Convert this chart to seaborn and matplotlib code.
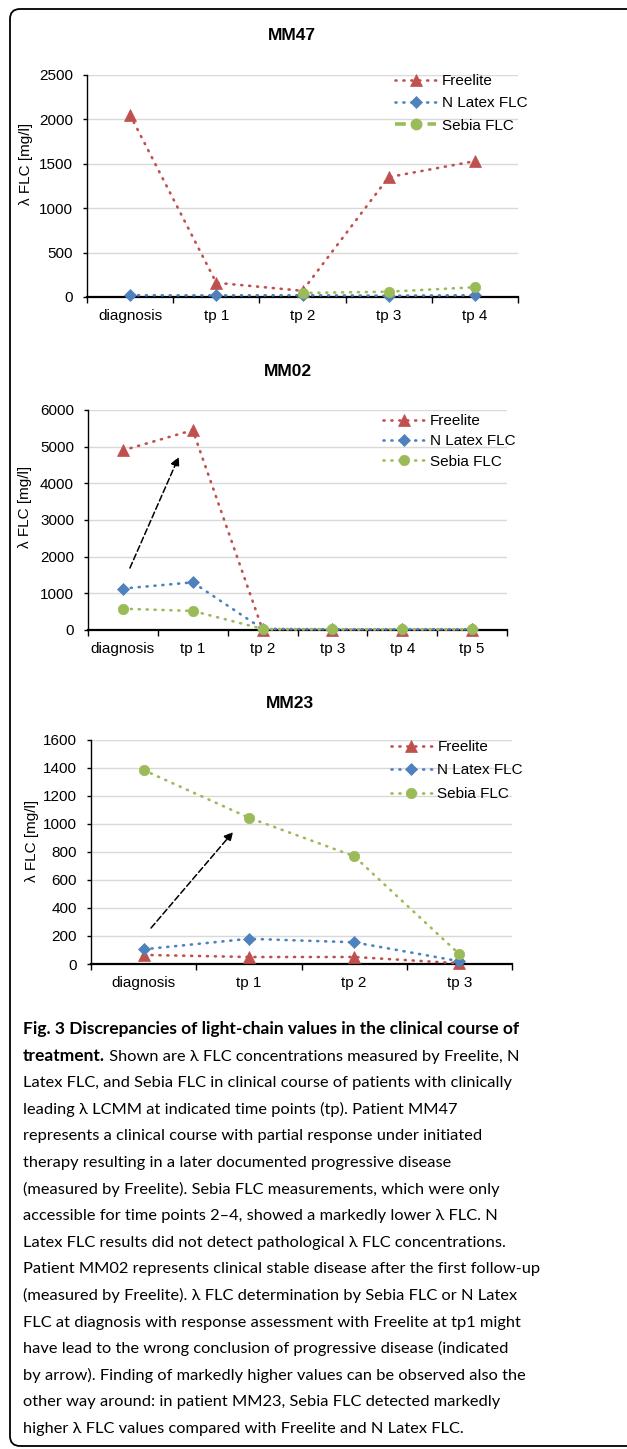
import matplotlib
matplotlib.use('Agg')
import matplotlib.pyplot as plt
import seaborn as sns
import numpy as np
import pandas as pd
from matplotlib.lines import Line2D
from matplotlib.patches import FancyBboxPatch

sns.set_theme(style='white', rc={'text.color': 'black', 'axes.labelcolor': 'black',
                                 'xtick.color': 'black', 'ytick.color': 'black'})
plt.rcParams['font.family'] = ['Liberation Sans', 'DejaVu Sans']

# ---- data ----
methods = ['Freelite', 'N Latex FLC', 'Sebia FLC']

mm47_tp = ['diagnosis', 'tp 1', 'tp 2', 'tp 3', 'tp 4']
mm47_freelite = [2050, 160, 70, 1350, 1530]
mm47_nlatex = [20, 18, 20, 15, 20]
mm47_sebia = [np.nan, np.nan, 45, 60, 110]

mm02_tp = ['diagnosis', 'tp 1', 'tp 2', 'tp 3', 'tp 4', 'tp 5']
mm02_freelite = [4900, 5450, 10, 10, 10, 10]
mm02_nlatex = [1130, 1300, 30, 20, 20, 20]
mm02_sebia = [580, 520, 30, 20, 20, 20]

mm23_tp = ['diagnosis', 'tp 1', 'tp 2', 'tp 3']
mm23_freelite = [65, 50, 50, 5]
mm23_nlatex = [105, 180, 155, 20]
mm23_sebia = [1385, 1045, 770, 70]

# arrows (start, end) in data coords
mm02_arrow = ((0.1, 1690), (0.8, 4720))
mm23_arrow = ((0.07, 257), (0.85, 943))

caption_bold = 'Fig. 3 Discrepancies of light-chain values in the clinical course of'
caption_lines = [
    "Latex FLC, and Sebia FLC in clinical course of patients with clinically",
    "leading \u03bb LCMM at indicated time points (tp). Patient MM47",
    "represents a clinical course with partial response under initiated",
    "therapy resulting in a later documented progressive disease",
    "(measured by Freelite). Sebia FLC measurements, which were only",
    "accessible for time points 2\u20134, showed a markedly lower \u03bb FLC. N",
    "Latex FLC results did not detect pathological \u03bb FLC concentrations.",
    "Patient MM02 represents clinical stable disease after the first follow-up",
    "(measured by Freelite). \u03bb FLC determination by Sebia FLC or N Latex",
    "FLC at diagnosis with response assessment with Freelite at tp1 might",
    "have lead to the wrong conclusion of progressive disease (indicated",
    "by arrow). Finding of markedly higher values can be observed also the",
    "other way around: in patient MM23, Sebia FLC detected markedly",
    "higher \u03bb FLC values compared with Freelite and N Latex FLC.",
]

colors = {'Freelite': '#C0504D', 'N Latex FLC': '#4F81BD', 'Sebia FLC': '#9BBB59'}
markers = {'Freelite': '^', 'N Latex FLC': 'D', 'Sebia FLC': 'o'}
msizes = {'Freelite': 8, 'N Latex FLC': 6.5, 'Sebia FLC': 7.5}
fs = 11

W, H = 627, 1449
fig = plt.figure(figsize=(W / 100, H / 100), dpi=100)
renderer = fig.canvas.get_renderer()


def px_axes(left, right, top, bottom):
    return fig.add_axes([left / W, 1 - bottom / H, (right - left) / W, (bottom - top) / H])


def draw_panel(ax, tps, vals, ymax, ystep, title, title_xy, leg_xy, leg_space, lab_xy,
               arrow=None, sebia_dashed=False):
    x = np.arange(len(tps))
    for m, v in zip(methods, vals):
        df = pd.DataFrame({'x': x, 'y': v}).dropna()
        sns.lineplot(data=df, x='x', y='y', ax=ax, color=colors[m], marker=markers[m],
                     markersize=msizes[m], markeredgecolor=colors[m], markeredgewidth=0.5,
                     linestyle=(0, (0.4, 2.6)), lw=1.9, dash_capstyle='round',
                     errorbar=None, label=m, clip_on=False, zorder=3)
    ax.set_xlim(-0.5, len(tps) - 0.5)
    ax.set_xticks(x)
    ax.set_xticklabels(tps)
    ax.set_xticks(np.arange(len(tps) + 1) - 0.5, minor=True)
    ax.tick_params(axis='x', which='major', length=0, pad=8.5, labelsize=fs)
    ax.tick_params(axis='x', which='minor', bottom=True, length=4, width=1, direction='out')
    ax.set_ylim(0, ymax)
    ax.set_yticks(np.arange(0, ymax + 1, ystep))
    ax.tick_params(axis='y', left=True, length=3, width=1, direction='out', pad=7, labelsize=fs)
    ax.yaxis.grid(True, color='#D9D9D9', lw=1)
    ax.set_axisbelow(True)
    for s in ['top', 'right']:
        ax.spines[s].set_visible(False)
    ax.spines['left'].set_color('black')
    ax.spines['left'].set_linewidth(1)
    ax.spines['bottom'].set_color('black')
    ax.spines['bottom'].set_linewidth(1.6)
    ax.set_xlabel('')
    ax.set_ylabel('\u03bb FLC [mg/l]', fontsize=fs, va='center')
    ax.yaxis.set_label_coords(*lab_xy)

    handles, labels = ax.get_legend_handles_labels()
    if sebia_dashed:
        h = handles[2]
        handles[2] = Line2D([], [], color=h.get_color(), marker=h.get_marker(),
                            markersize=h.get_markersize(), lw=2.6, linestyle=(0, (3, 1.5)))
    ax.legend(handles, labels, loc='upper left', bbox_to_anchor=leg_xy, frameon=False,
              fontsize=fs, handlelength=2.7, handletextpad=0.35, labelspacing=leg_space,
              borderpad=0, borderaxespad=0)

    if arrow is not None:
        ax.annotate('', xy=arrow[1], xytext=arrow[0],
                    arrowprops=dict(arrowstyle='-|>', color='black', lw=1.1,
                                    linestyle=(0, (4, 2)), mutation_scale=13,
                                    shrinkA=0, shrinkB=0))
    fig.text(title_xy[0] / W, 1 - title_xy[1] / H, title, ha='center', va='center',
             fontsize=12.5, fontweight='bold')


ax1 = px_axes(87, 518, 75, 297)
draw_panel(ax1, mm47_tp, [mm47_freelite, mm47_nlatex, mm47_sebia], 2500, 500, 'MM47',
           (292, 35), (0.715, 1.005), 0.55, (-0.142, 0.60), sebia_dashed=True)

ax2 = px_axes(88, 507, 410, 630)
draw_panel(ax2, mm02_tp, [mm02_freelite, mm02_nlatex, mm02_sebia], 6000, 1000, 'MM02',
           (288, 372), (0.705, 0.982), 0.42, (-0.150, 0.56), arrow=mm02_arrow)

ax3 = px_axes(91, 512, 740, 964)
draw_panel(ax3, mm23_tp, [mm23_freelite, mm23_nlatex, mm23_sebia], 1600, 200, 'MM23',
           (290, 703), (0.712, 1.0), 0.62, (-0.140, 0.55), arrow=mm23_arrow)

# ---- caption ----
cap_font = ['Lato', 'Liberation Sans', 'DejaVu Sans']
x0 = 23 / W
base0 = 1034
pitch = 26.6

# fit the font sizes so the lines are as wide as in the figure
probe = fig.text(0, 0, caption_lines[0], family=cap_font, fontsize=12)
cap_size = 12 * 487 / probe.get_window_extent(renderer).width
probe.remove()
probe = fig.text(0, 0, caption_bold, family=cap_font, fontsize=12, fontweight='bold')
bold_size = 12 * 492 / probe.get_window_extent(renderer).width
probe.remove()

fig.text(x0, 1 - base0 / H, caption_bold,
         family=cap_font, fontsize=bold_size, fontweight='bold', va='baseline', ha='left')
t_bold = fig.text(x0, 1 - (base0 + pitch) / H, 'treatment.', family=cap_font, fontsize=bold_size,
                  fontweight='bold', va='baseline', ha='left')
bb = t_bold.get_window_extent(renderer)
fig.text(bb.x1 / W, 1 - (base0 + pitch) / H,
         ' Shown are \u03bb FLC concentrations measured by Freelite, N',
         family=cap_font, fontsize=cap_size, va='baseline', ha='left')
for i, line in enumerate(caption_lines):
    fig.text(x0, 1 - (base0 + pitch * (i + 2)) / H, line, family=cap_font, fontsize=cap_size,
             va='baseline', ha='left')

# ---- rounded frame ----
frame = FancyBboxPatch((0.10, 0.03), 7.0, 14.37, boxstyle='round,pad=0,rounding_size=0.1',
                       transform=fig.dpi_scale_trans, fill=False, ec='black', lw=1.3)
fig.patches.append(frame)

fig.savefig('out.png', dpi=100)
